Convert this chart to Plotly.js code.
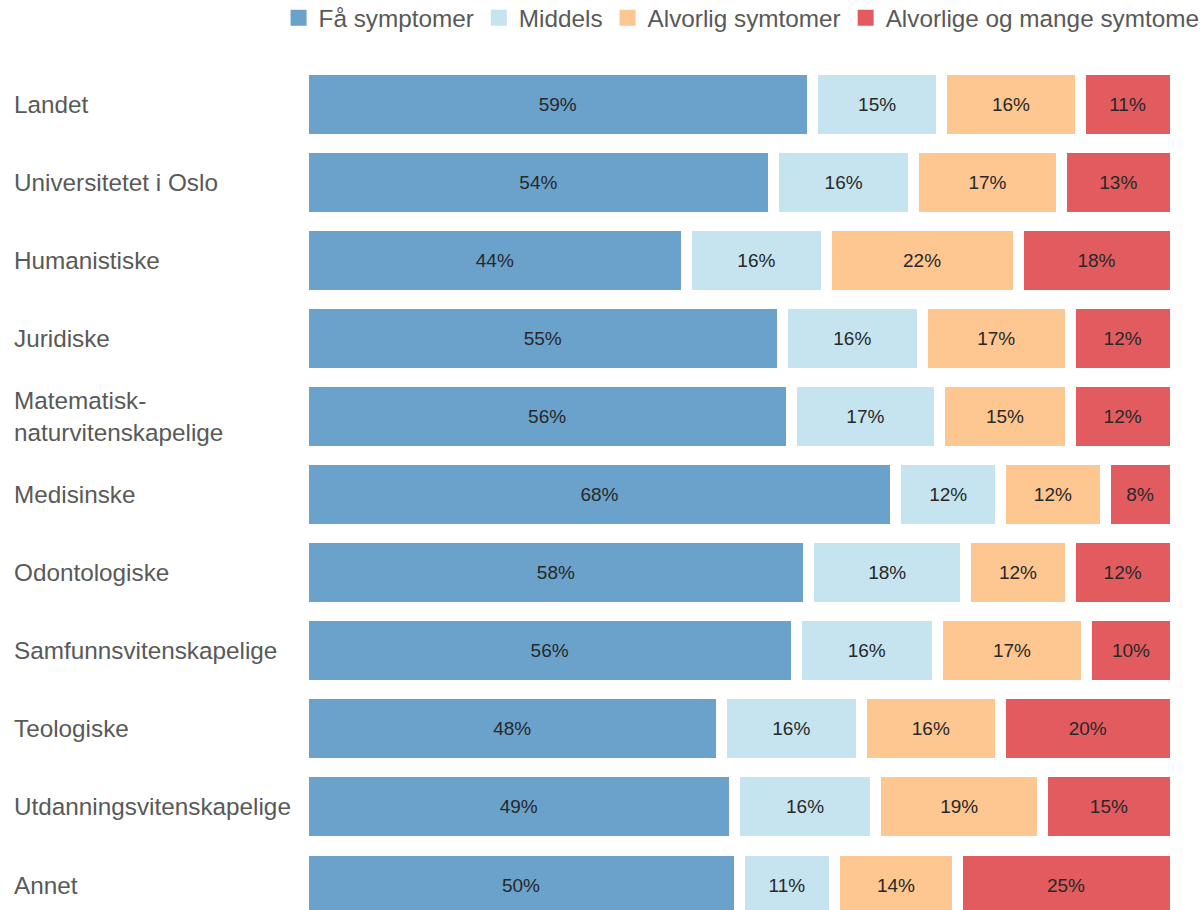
<!DOCTYPE html>
<html>
<head>
<meta charset="utf-8">
<script src="https://cdn.plot.ly/plotly-3.0.1.min.js"></script>
<style>html,body{margin:0;padding:0;background:#fff;}</style>
</head>
<body>
<div id="chart" style="width:1202px;height:910px;"></div>
<script>
const categories = ['Landet','Universitetet i Oslo','Humanistiske','Juridiske','Matematisk-<br>naturvitenskapelige','Medisinske','Odontologiske','Samfunnsvitenskapelige','Teologiske','Utdanningsvitenskapelige','Annet'];
const seriesNames = ['Få symptomer','Middels','Alvorlig symtomer','Alvorlige og mange symtome'];
const faSymptomer = [59,54,44,55,56,68,58,56,48,49,50];
const middels = [15,16,16,16,17,12,18,16,16,16,11];
const alvorligSymtomer = [16,17,22,17,15,12,12,17,16,19,14];
const alvorligeOgMange = [11,13,18,12,12,8,12,10,20,15,25];

const colors = ['#6aa2cb','#c5e4ef','#fec691','#e25c5f'];
const allSeries = [faSymptomer, middels, alvorligSymtomer, alvorligeOgMange];

const FONT = '"Liberation Sans", Arial, sans-serif';

const traces = allSeries.map((vals, i) => ({
  type: 'bar',
  orientation: 'h',
  name: seriesNames[i],
  legendgroup: 'g' + i,
  showlegend: false,
  y: categories,
  x: vals,
  text: vals.map(v => v + '%'),
  texttemplate: '%{text}',
  textposition: 'inside',
  insidetextanchor: 'middle',
  constraintext: 'none',
  textangle: 0,
  textfont: {family: FONT, size: 19, color: '#282828'},
  marker: {color: colors[i], line: {color: '#ffffff', width: 11}},
  hoverinfo: 'skip'
}));

// legend-only proxies (solid squares in the legend, no marks in the plot)
const legendProxies = seriesNames.map((name, i) => ({
  type: 'bar',
  orientation: 'h',
  name: name,
  legendgroup: 'g' + i,
  showlegend: true,
  y: [null],
  x: [null],
  marker: {color: colors[i], line: {color: colors[i], width: 4}},
  hoverinfo: 'skip'
}));

const annotations = categories.map(c => ({
  xref: 'paper', yref: 'y',
  x: 0, xshift: -291,
  y: c,
  xanchor: 'left', yanchor: 'middle', align: 'left',
  text: c,
  showarrow: false,
  font: {family: FONT, size: 24.3, color: '#595959'}
}));

const layout = {
  width: 1202, height: 910,
  margin: {l: 303, r: 27, t: 65, b: 0, pad: 0, autoexpand: false},
  paper_bgcolor: '#ffffff',
  plot_bgcolor: '#ffffff',
  font: {family: FONT, color: '#595959'},
  barmode: 'stack',
  barnorm: 'percent',
  bargap: 0.104,
  showlegend: true,
  legend: {
    orientation: 'h',
    x: -0.028, xanchor: 'left',
    y: 1.0556, yref: 'paper', yanchor: 'middle',
    font: {family: FONT, size: 24.3, color: '#595959'},
    itemwidth: 30,
    traceorder: 'normal'
  },
  xaxis: {range: [0, 100], visible: false, fixedrange: true},
  yaxis: {type: 'category', range: [10.32, -0.5], visible: false, fixedrange: true},
  annotations: annotations
};

Plotly.newPlot('chart', traces.concat(legendProxies), layout, {staticPlot: true, displayModeBar: false});
</script>
</body>
</html>
